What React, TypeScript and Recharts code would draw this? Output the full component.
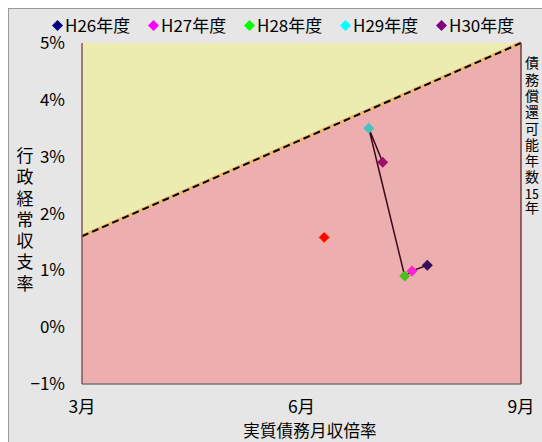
import React from 'react';
import { ComposedChart, Area, Line, Scatter, XAxis, YAxis } from 'recharts';

const boundaryMonths = [3, 9];
const boundaryRates = [1.6, 5.0];
const topRates = [5, 5];

const years = ['H26年度', 'H27年度', 'H28年度', 'H29年度', 'H30年度'];
const yearMonths = [7.72, 7.51, 7.41, 6.92, 7.11];
const yearRates = [1.09, 0.99, 0.9, 3.5, 2.9];
const legendColors = ['#000080', '#ff00ff', '#00ff00', '#00ffff', '#800080'];
const pointColors = ['#3c0c5c', '#ff20d8', '#4cc01c', '#48c0c0', '#a0106a'];

const refMonths = [6.31];
const refRates = [1.58];

const xTicks = [3, 6, 9];
const xTickLabels = ['3月', '6月', '9月'];
const yTicks = [-1, 0, 1, 2, 3, 4, 5];
const yTickLabels = ['−1%', '0%', '1%', '2%', '3%', '4%', '5%'];
const xTitle = '実質債務月収倍率';
const yTitle = '行政経常収支率';
const rightTitleHead = '債務償還可能年数';
const rightTitleNum = '15';
const rightTitleTail = '年';

const FONT = '"Noto Sans CJK JP", "Noto Sans", sans-serif';

const areaData = boundaryMonths.map((x, i) => ({ x, b: boundaryRates[i], t: topRates[i] }));
const pathData = yearMonths.map((x, i) => ({ x, y: yearRates[i] }));
const refData = refMonths.map((x, i) => ({ x, y: refRates[i] }));

const Diamond = (props: any) => {
  const { cx, cy, fill, stroke } = props;
  if (cx == null || cy == null) return <g />;
  const r = 5.5;
  return (
    <polygon
      points={`${cx},${cy - r} ${cx + r},${cy} ${cx},${cy + r} ${cx - r},${cy}`}
      fill={fill}
      stroke={stroke || 'none'}
      strokeWidth={1}
    />
  );
};

const Empty = () => <g />;

const xTickFmt = (v: number) => xTickLabels[xTicks.indexOf(v)] ?? '';
const yTickFmt = (v: number) => yTickLabels[yTicks.indexOf(v)] ?? '';

export default function App() {
  return (
    <div
      style={{
        position: 'fixed',
        left: 8,
        top: 8,
        width: 534,
        height: 434,
        boxSizing: 'border-box',
        borderLeft: '1px solid #9a9a9a',
        borderTop: '1px solid #9a9a9a',
        background: '#e6e6e6',
        overflow: 'hidden',
        fontFamily: FONT,
      }}
    >
      <div style={{ position: 'absolute', left: 43, top: 6, display: 'flex', zIndex: 2 }}>
        {years.map((y, i) => (
          <div key={y} style={{ width: 96, display: 'flex', alignItems: 'center', fontSize: 17, lineHeight: '20px', color: '#000' }}>
            <svg width={11} height={11} style={{ marginRight: 2 }}>
              <polygon points="5.5,0 11,5.5 5.5,11 0,5.5" fill={legendColors[i]} />
            </svg>
            <span>{y}</span>
          </div>
        ))}
      </div>
      <div
        style={{
          position: 'absolute',
          left: 7.5,
          top: 137.5,
          writingMode: 'vertical-rl',
          fontSize: 17,
          lineHeight: 1,
          letterSpacing: '4.3px',
          color: '#000',
          zIndex: 2,
        }}
      >
        {yTitle}
      </div>
      <div
        style={{
          position: 'absolute',
          left: 516,
          top: 47,
          writingMode: 'vertical-rl',
          fontSize: 14,
          lineHeight: 1,
          letterSpacing: '2.3px',
          color: '#000',
          zIndex: 2,
        }}
      >
        {rightTitleHead}
        <span style={{ textCombineUpright: 'all' } as any}>{rightTitleNum}</span>
        {rightTitleTail}
      </div>
      <div
        style={{
          position: 'absolute',
          left: 201,
          width: 200,
          top: 413,
          textAlign: 'center',
          fontSize: 16.5,
          lineHeight: '16px',
          letterSpacing: '0.2px',
          color: '#000',
          zIndex: 2,
        }}
      >
        {xTitle}
      </div>
      <ComposedChart width={533} height={433} data={areaData} margin={{ top: 34, right: 21, bottom: 0, left: 0 }}>
        <XAxis
          dataKey="x"
          type="number"
          domain={[3, 9]}
          ticks={xTicks}
          tickFormatter={xTickFmt}
          height={58}
          tickLine={false}
          tickSize={6}
          tickMargin={11}
          axisLine={{ stroke: '#777', strokeWidth: 1.5 }}
          tick={{ fill: '#000', fontSize: 17.5, fontFamily: FONT }}
          interval={0}
        />
        <XAxis
          xAxisId="top"
          orientation="top"
          type="number"
          domain={[3, 9]}
          ticks={xTicks}
          height={0}
          mirror
          tickSize={5}
          tick={Empty}
          tickLine={{ stroke: '#666' }}
          axisLine={{ stroke: '#777', strokeWidth: 1.5 }}
        />
        <YAxis
          type="number"
          domain={[-1, 5]}
          ticks={yTicks}
          tickFormatter={yTickFmt}
          width={73}
          tickLine={false}
          tickSize={6}
          tickMargin={11}
          axisLine={{ stroke: '#8a5555', strokeWidth: 1.5 }}
          tick={{ fill: '#000', fontSize: 17, fontFamily: FONT }}
          interval={0}
        />
        <YAxis
          yAxisId="r"
          orientation="right"
          type="number"
          domain={[-1, 5]}
          ticks={yTicks}
          width={21}
          mirror
          tickSize={5}
          tick={Empty}
          tickLine={{ stroke: '#555' }}
          axisLine={{ stroke: '#7a3a3a', strokeWidth: 1.5 }}
        />
        <Area dataKey="t" type="linear" baseValue="dataMin" fill="#ececb0" fillOpacity={1} stroke="none" isAnimationActive={false} />
        <Area dataKey="b" type="linear" baseValue="dataMin" fill="#ecaeae" fillOpacity={1} stroke="#f0b878" strokeWidth={4} isAnimationActive={false} />
        <Line dataKey="b" type="linear" stroke="#000" strokeWidth={2} strokeDasharray="7 4" dot={false} isAnimationActive={false} />
        <Scatter data={pathData} dataKey="y" line={{ stroke: '#3a0a1a', strokeWidth: 1.5 }} lineType="joint" shape={Empty} isAnimationActive={false} />
        <Scatter data={refData} dataKey="y" fill="#ff0000" stroke="#ff8040" shape={Diamond} isAnimationActive={false} />
        {years.map((y, i) => (
          <Scatter
            key={y}
            name={y}
            data={[pathData[i]]}
            dataKey="y"
            fill={pointColors[i]}
            shape={Diamond}
            isAnimationActive={false}
          />
        ))}
      </ComposedChart>
    </div>
  );
}
